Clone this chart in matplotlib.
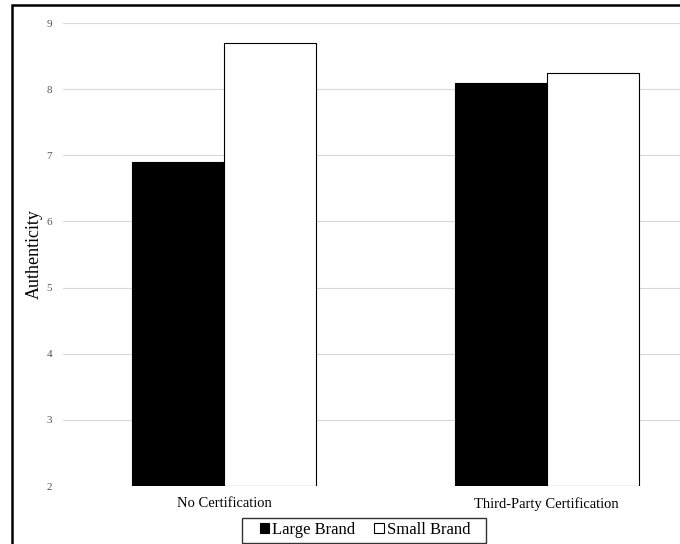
import matplotlib
matplotlib.use("Agg")
import matplotlib.pyplot as plt
from matplotlib.patches import Rectangle, Patch
import numpy as np

categories = ["No Certification", "Third-Party Certification"]
series_names = ["Large Brand", "Small Brand"]
large_brand = [6.9, 8.1]
small_brand = [8.7, 8.24]
y_ticks = [2, 3, 4, 5, 6, 7, 8, 9]

W, H = 680, 544
fig = plt.figure(figsize=(W / 100, H / 100), dpi=100)
plt.rcParams['font.family'] = ['Liberation Serif', 'DejaVu Serif']

# plot area in pixels
left_px, right_px = 63, 708
top_px, bot_px = 23, 486
aw = right_px - left_px
ax = fig.add_axes([left_px / W, 1 - bot_px / H, aw / W, (bot_px - top_px) / H])

x = np.arange(len(categories))
bw = 0.286
ax.bar(x - bw / 2, np.array(large_brand) - 2, bw, bottom=2, color='black', edgecolor='black', linewidth=0.8, zorder=3)
ax.bar(x + bw / 2, np.array(small_brand) - 2, bw, bottom=2, color='white', edgecolor='black', linewidth=0.8, zorder=3)

ax.set_xlim(-0.5, 1.5)
ax.set_ylim(2, 9)
ax.set_yticks(y_ticks)
ax.set_yticklabels([str(t) for t in y_ticks], fontsize=8, color='#555555')
ax.set_xticks(x)
ax.set_xticklabels(categories, fontsize=10.5, color='black')
ax.tick_params(axis='both', length=0)
ax.tick_params(axis='y', pad=8)
ax.tick_params(axis='x', pad=8)
ax.grid(axis='y', color='#d9d9d9', linewidth=0.8, zorder=0)
for s in ax.spines.values():
    s.set_visible(False)
ax.set_ylabel("Authenticity", fontsize=13)
ax.yaxis.set_label_coords((43 - left_px) / aw, 0.5)
ax.set_facecolor('none')

handles = [Patch(facecolor='black', edgecolor='black', linewidth=0.8),
           Patch(facecolor='white', edgecolor='black', linewidth=0.8)]
leg = fig.legend(handles, series_names, loc='center', bbox_to_anchor=(365 / W, 1 - 530 / H),
                 ncol=2, fontsize=12, frameon=False, handlelength=0.55,
                 handleheight=0.55, handletextpad=0.2, columnspacing=1.15, borderpad=0.3,
                 borderaxespad=0)

# legend frame
fig.patches.append(Rectangle((242 / W, 1 - 543 / H), (486 - 242) / W, (543 - 518) / H,
                             transform=fig.transFigure, fill=False, edgecolor='#333333',
                             linewidth=1.0))

# outer frame
fig.patches.append(Rectangle((12 / W, -0.01), (W + 10) / W, 1 - 5 / H + 0.01,
                             transform=fig.transFigure, fill=False, edgecolor='black',
                             linewidth=1.8, clip_on=False))

fig.savefig("out.png", dpi=100)
